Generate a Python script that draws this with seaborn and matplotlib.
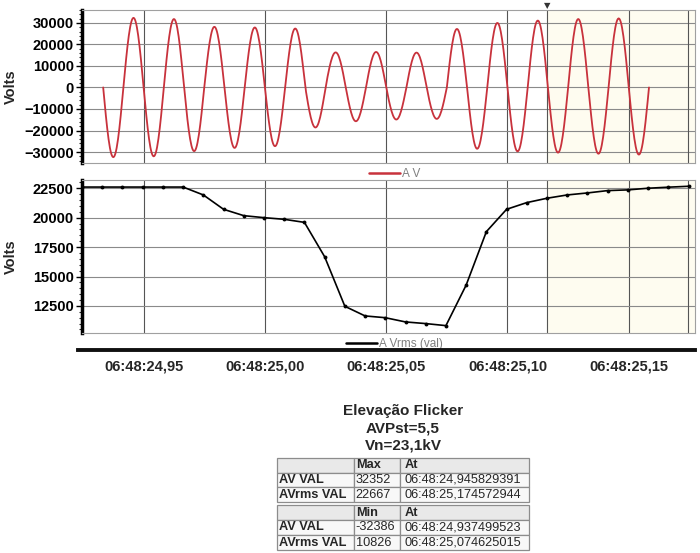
import numpy as np
import pandas as pd
import matplotlib
matplotlib.use("Agg")
import matplotlib.pyplot as plt
import seaborn as sns
from matplotlib.ticker import MultipleLocator, AutoMinorLocator, FuncFormatter
from matplotlib.lines import Line2D

# Instantaneous voltage: signed peak of each half cycle (V), first trough at 24.9375 s
av_extrema = [-32386, 32352, -32000, 31800, -29600, 28200, -28100, 27900,
              -27300, 27400, -18600, 16300, -15700, 16500, -14900, 16200,
              -14600, 27200, -28500, 30000, -29700, 31100, -30300, 31800,
              -30800, 32100, -31200]
av_first_peak_s = 24.9375
freq_hz = 60.0

# RMS value per half cycle (V)
rms_values = [22600, 22600, 22600, 22600, 22600, 22600, 21930, 20710, 20170,
              20000, 19860, 19600, 16680, 12470, 11650, 11500, 11140, 11000,
              10826, 14270, 18810, 20710, 21280, 21650, 21930, 22100, 22300,
              22360, 22500, 22590, 22667]
rms_min_s = 25.074625  # time of minimum rms (index 18)

cursor_s = [25.1163, 25.1746]
x_ticks = [24.95, 25.00, 25.05, 25.10, 25.15]

title_lines = ["Elevação Flicker", "AVPst=5,5", "Vn=23,1kV"]
table_max = [["", "Max", "At"],
             ["AV VAL", "32352", "06:48:24,945829391"],
             ["AVrms VAL", "22667", "06:48:25,174572944"]]
table_min = [["", "Min", "At"],
             ["AV VAL", "-32386", "06:48:24,937499523"],
             ["AVrms VAL", "10826", "06:48:25,074625015"]]

# Build waveform from half-cycle lobes
half = 1.0 / (2 * freq_hz)
t_parts, v_parts = [], []
for k, amp in enumerate(av_extrema):
    start = av_first_peak_s + k * half - half / 2
    tt = np.linspace(start, start + half, 30, endpoint=(k == len(av_extrema) - 1))
    t_parts.append(tt)
    v_parts.append(amp * np.sin(np.pi * (tt - start) / half))
wave = pd.DataFrame({"t": np.concatenate(t_parts), "v": np.concatenate(v_parts)})

rms_t = rms_min_s + (np.arange(len(rms_values)) - 18) / 120.0
rms = pd.DataFrame({"t": rms_t, "v": rms_values})

sns.set_theme(style="white")
plt.rcParams["font.family"] = ["Liberation Sans", "DejaVu Sans"]

W, H = 700, 553
fig = plt.figure(figsize=(7, 5.53), dpi=100)

def fbox(x0, y0, x1, y1):
    return [x0 / W, 1 - y1 / H, (x1 - x0) / W, (y1 - y0) / H]

xlim = (24.9246, 25.1773)
ax1 = fig.add_axes(fbox(82, 10, 695, 163))
ax2 = fig.add_axes(fbox(82, 180, 695, 333))

sns.lineplot(data=wave, x="t", y="v", ax=ax1, color="#c8323c", lw=1.3,
             estimator=None, sort=False, legend=False)
sns.lineplot(data=rms, x="t", y="v", ax=ax2, color="black", lw=1.2,
             marker="o", markersize=2.8, markeredgewidth=0,
             estimator=None, legend=False)

panels = [(ax1, (-35100, 36000), 10000, "#c8323c", "A V"),
          (ax2, (10200, 23200), 2500, "black", "A Vrms (val)")]
for ax, ylim, step, col, name in panels:
    ax.set_xlim(*xlim)
    ax.set_ylim(*ylim)
    ax.axvspan(cursor_s[0], xlim[1], color="#fefcf0", zorder=0)
    ax.yaxis.set_major_locator(MultipleLocator(step))
    ax.yaxis.set_minor_locator(AutoMinorLocator(5))
    ax.set_xticks(x_ticks)
    ax.tick_params(axis="x", bottom=False, labelbottom=False)
    ax.tick_params(axis="y", which="major", left=True, direction="out", length=4,
                   width=1, labelsize=10.5, pad=2, colors="black")
    ax.tick_params(axis="y", which="minor", left=True, direction="out", length=2,
                   width=0.8)
    for lbl in ax.get_yticklabels():
        lbl.set_fontweight("bold")
    ax.grid(True, axis="y", color="#8a8a8a", lw=0.8)
    ax.grid(True, axis="x", color="#555555", lw=0.8)
    for c in cursor_s:
        ax.axvline(c, color="#555555", lw=0.8, zorder=1)
    for side in ["top", "right", "bottom"]:
        ax.spines[side].set_color("#a0a0a0")
        ax.spines[side].set_linewidth(0.8)
    ax.spines["left"].set_color("black")
    ax.spines["left"].set_linewidth(2.5)
    ax.set_xlabel("")
    ax.set_ylabel("Volts", fontsize=10.5, fontweight="bold")
    ax.yaxis.set_label_coords(-0.105, 0.5)
    handle = Line2D([], [], color=col, lw=1.8)
    leg = ax.legend([handle], [name], loc="upper center", bbox_to_anchor=(0.51, 0.005),
                    frameon=False, fontsize=8.5, handlelength=2.6, handletextpad=0.2,
                    borderpad=0)
    for txt in leg.get_texts():
        txt.set_color("#808080")

ax1.text(cursor_s[0], 1.0, "▼", transform=ax1.get_xaxis_transform(), ha="center",
         va="bottom", fontsize=6, color="#333333", family="DejaVu Sans")

# Separate time axis bar
axb = fig.add_axes(fbox(78, 349, 695, 350))
axb.set_xlim(24.9230, xlim[1])
axb.set_yticks([])
axb.patch.set_alpha(0)
for side in ["top", "right", "left"]:
    axb.spines[side].set_visible(False)
axb.spines["bottom"].set_linewidth(2.8)
axb.spines["bottom"].set_color("#111111")
axb.set_xticks(x_ticks)
axb.xaxis.set_minor_locator(MultipleLocator(0.01))
axb.xaxis.set_major_formatter(FuncFormatter(
    lambda v, p: "06:48:" + f"{v:05.2f}".replace(".", ",")))
axb.tick_params(axis="x", which="major", direction="out", length=4, width=1,
                labelsize=10.5, pad=3)
axb.tick_params(axis="x", which="minor", direction="out", length=3, width=0.8)
for lbl in axb.get_xticklabels():
    lbl.set_fontweight("bold")

# Title block
for i, line in enumerate(title_lines):
    fig.text(403 / W, 1 - (411 + i * 17.5) / H, line, ha="center", va="center",
             fontsize=11, fontweight="bold")

# Tables
col_w = [77, 46, 128]
for data, box in [(table_max, (277, 458, 529, 502)), (table_min, (277, 505, 529, 550))]:
    axt = fig.add_axes(fbox(*box))
    axt.axis("off")
    tb = axt.table(cellText=data, colWidths=[c / sum(col_w) for c in col_w],
                   cellLoc="left", bbox=[0, 0, 1, 1])
    tb.auto_set_font_size(False)
    for (r, c), cell in tb.get_celld().items():
        cell.set_edgecolor("#8c8c8c")
        cell.set_linewidth(0.9)
        cell.set_facecolor("#e9e9e9" if r == 0 else "#f8f8f8")
        cell.get_text().set_fontsize(9.2)
        cell.PAD = 0.03
        if c == 0 or r == 0:
            cell.get_text().set_fontweight("bold")

fig.savefig("out.png", dpi=100)
